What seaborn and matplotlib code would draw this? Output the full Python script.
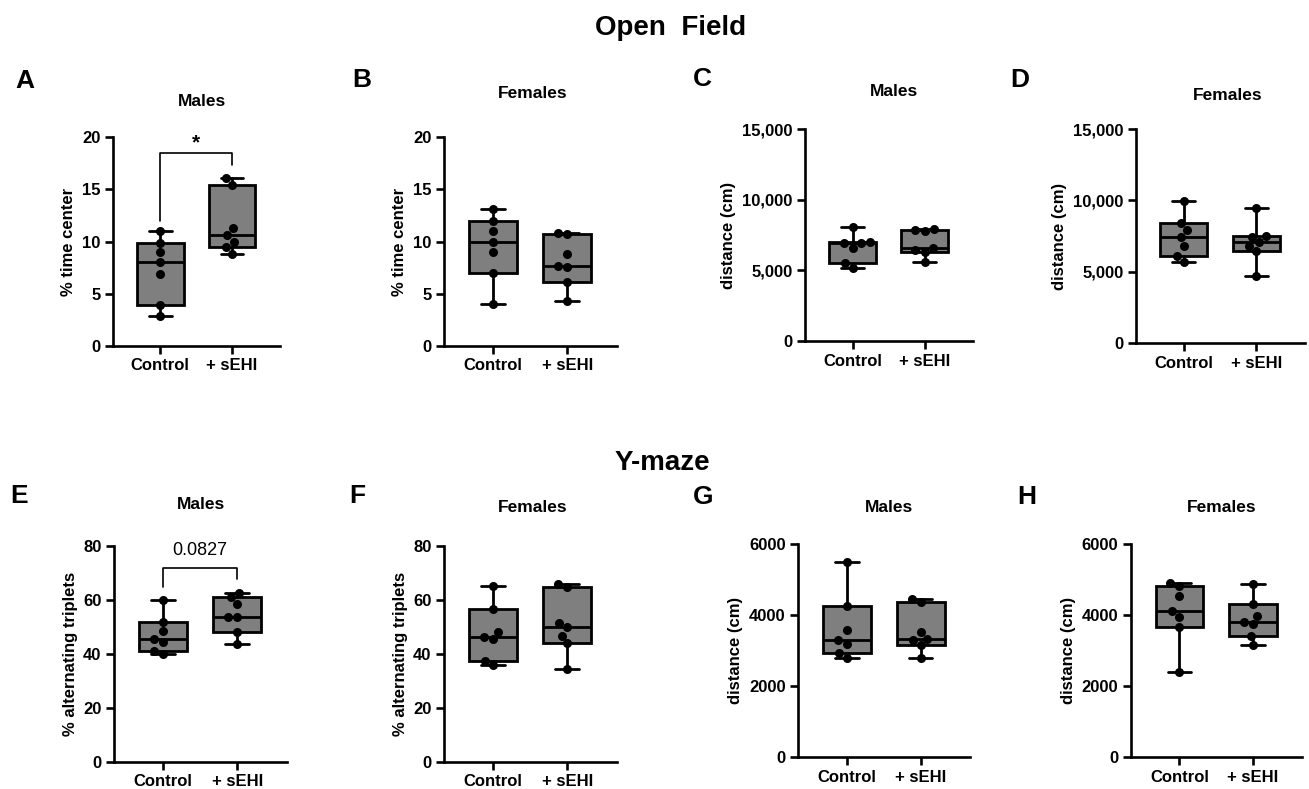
import numpy as np
import pandas as pd
import matplotlib
matplotlib.use('Agg')
import matplotlib.pyplot as plt
from matplotlib.ticker import FuncFormatter
import seaborn as sns

groups = ['Control', '+ sEHI']

# Open Field - % time in center
of_center_m_ctrl = [2.9, 3.9, 6.9, 8.0, 9.0, 9.9, 11.0]
of_center_m_sehi = [8.8, 9.5, 10.0, 10.6, 11.3, 15.4, 16.1]
of_center_f_ctrl = [4.0, 7.0, 9.0, 10.0, 11.0, 12.0, 13.1]
of_center_f_sehi = [4.3, 6.1, 7.6, 7.7, 8.8, 10.7, 10.8]

# Open Field - distance (cm)
of_dist_m_ctrl = [5200, 5550, 6600, 6900, 6950, 7000, 8100]
of_dist_m_sehi = [5600, 6300, 6450, 6550, 7750, 7850, 7900]
of_dist_f_ctrl = [5650, 6100, 6800, 7400, 7900, 8400, 9950]
of_dist_f_sehi = [4720, 6450, 6830, 7050, 7450, 7500, 9460]

# Y-maze - % alternating triplets
ym_alt_m_ctrl = [40.0, 41.2, 44.3, 45.6, 48.6, 52.0, 60.0]
ym_alt_m_sehi = [43.7, 48.0, 53.6, 53.7, 58.5, 61.0, 62.6]
ym_alt_f_ctrl = [36.0, 37.5, 45.5, 46.2, 48.3, 56.5, 65.3]
ym_alt_f_sehi = [34.4, 44.0, 46.8, 49.9, 51.5, 65.0, 65.9]

# Y-maze - distance (cm)
ym_dist_m_ctrl = [2780, 2930, 3170, 3290, 3580, 4250, 5490]
ym_dist_m_sehi = [2780, 3150, 3300, 3330, 3530, 4360, 4440]
ym_dist_f_ctrl = [2400, 3650, 3950, 4100, 4540, 4830, 4900]
ym_dist_f_sehi = [3150, 3400, 3740, 3800, 3970, 4320, 4880]

ticks_center = [0, 5, 10, 15, 20]
ticks_of_dist = [0, 5000, 10000, 15000]
ticks_alt = [0, 20, 40, 60, 80]
ticks_ym_dist = [0, 2000, 4000, 6000]

W, H = 1309, 789

sns.set_theme(style='ticks')
plt.rcParams['font.family'] = ['Liberation Sans', 'DejaVu Sans']
plt.rcParams['font.weight'] = 'bold'
plt.rcParams['axes.labelweight'] = 'bold'
for k in ['text.color', 'axes.labelcolor', 'xtick.color', 'ytick.color', 'axes.edgecolor']:
    plt.rcParams[k] = 'black'


def box_stats(vals):
    # GraphPad-style quartiles (n+1 method), whiskers min to max
    v = np.asarray(vals, dtype=float)
    q1, med, q3 = np.percentile(v, [25, 50, 75], method='weibull')
    return dict(med=med, q1=q1, q3=q3, whislo=v.min(), whishi=v.max(), fliers=[])


def draw_panel(rect, ctrl, sehi, yticks, ylabel, comma=False):
    l, t, r, b = rect
    ax = fig.add_axes([l / W, 1 - b / H, (r - l) / W, (b - t) / H])
    lw = 2.0
    ax.bxp([box_stats(ctrl), box_stats(sehi)], positions=[0, 1], widths=0.65,
           capwidths=0.32, patch_artist=True, showfliers=False,
           boxprops=dict(facecolor='#7f7f7f', edgecolor='black', linewidth=lw),
           medianprops=dict(color='black', linewidth=lw),
           whiskerprops=dict(color='black', linewidth=lw),
           capprops=dict(color='black', linewidth=lw))
    df = pd.DataFrame({'group': [groups[0]] * len(ctrl) + [groups[1]] * len(sehi),
                       'value': list(ctrl) + list(sehi)})
    sns.swarmplot(data=df, x='group', y='value', order=groups, color='black',
                  size=6.5, ax=ax, zorder=3)
    ax.set_xlim(-0.66, 1.67)
    ax.set_ylim(yticks[0], yticks[-1])
    ax.set_yticks(yticks)
    if comma:
        ax.yaxis.set_major_formatter(FuncFormatter(lambda v, p: f'{int(v):,}'))
    ax.set_xticks([0, 1])
    ax.set_xticklabels(groups)
    ax.set_xlabel('')
    ax.set_ylabel(ylabel, fontsize=12, fontweight='bold', labelpad=4, color='black')
    sns.despine(ax=ax)
    for s in ['left', 'bottom']:
        ax.spines[s].set_linewidth(1.9)
        ax.spines[s].set_color('black')
    ax.tick_params(axis='both', direction='out', length=6, width=1.9,
                   color='black', labelcolor='black', labelsize=12, pad=3)
    for lab in ax.get_xticklabels() + ax.get_yticklabels():
        lab.set_fontweight('bold')
    ax.patch.set_alpha(0)
    return ax


fig = plt.figure(figsize=(W / 100, H / 100), dpi=100)

panels = [
    ('A', 'Males', (113, 137, 280, 346), of_center_m_ctrl, of_center_m_sehi, ticks_center, '% time center', False),
    ('B', 'Females', (444, 137, 617, 346), of_center_f_ctrl, of_center_f_sehi, ticks_center, '% time center', False),
    ('C', 'Males', (805, 129, 973, 341), of_dist_m_ctrl, of_dist_m_sehi, ticks_of_dist, 'distance (cm)', True),
    ('D', 'Females', (1136, 129, 1305, 343), of_dist_f_ctrl, of_dist_f_sehi, ticks_of_dist, 'distance (cm)', True),
    ('E', 'Males', (114, 546, 287, 762), ym_alt_m_ctrl, ym_alt_m_sehi, ticks_alt, '% alternating triplets', False),
    ('F', 'Females', (444, 546, 617, 762), ym_alt_f_ctrl, ym_alt_f_sehi, ticks_alt, '% alternating triplets', False),
    ('G', 'Males', (798, 544, 970, 757), ym_dist_m_ctrl, ym_dist_m_sehi, ticks_ym_dist, 'distance (cm)', False),
    ('H', 'Females', (1131, 544, 1302, 757), ym_dist_f_ctrl, ym_dist_f_sehi, ticks_ym_dist, 'distance (cm)', False),
]
letter_pos = {'A': (25, 81), 'B': (362, 80), 'C': (702, 79), 'D': (1020, 80),
              'E': (19, 496), 'F': (357, 496), 'G': (703, 497), 'H': (1027, 497)}
title_pos = {'A': (202, 102), 'B': (533, 94), 'C': (894, 92), 'D': (1228, 95),
             'E': (201, 505), 'F': (533, 507), 'G': (889, 508), 'H': (1222, 508)}

axes = {}
for key, title, rect, c, s, yt, yl, comma in panels:
    axes[key] = draw_panel(rect, c, s, yt, yl, comma)
    lx, ly = letter_pos[key]
    fig.text(lx / W, 1 - ly / H, key, ha='center', va='center', fontsize=19, fontweight='bold')
    tx, ty = title_pos[key]
    fig.text(tx / W, 1 - ty / H, title, ha='center', va='center', fontsize=12.5, fontweight='bold')

# significance brackets
ax = axes['A']
ax.plot([0, 0, 1, 1], [12.0, 18.5, 18.5, 17.3], color='black', lw=1.2, clip_on=False)
ax.text(0.5, 19.4, '*', ha='center', va='center', fontsize=15, fontweight='bold')
ax = axes['E']
ax.plot([0, 0, 1, 1], [64.8, 72.0, 72.0, 67.6], color='black', lw=1.2, clip_on=False)
ax.text(0.5, 78.4, '0.0827', ha='center', va='center', fontsize=13, fontweight='normal')

fig.text(671 / W, 1 - 28 / H, 'Open  Field', ha='center', va='center', fontsize=20, fontweight='bold')
fig.text(662 / W, 1 - 463 / H, 'Y-maze', ha='center', va='center', fontsize=20, fontweight='bold')

fig.savefig('out.png', dpi=100, facecolor='white')
